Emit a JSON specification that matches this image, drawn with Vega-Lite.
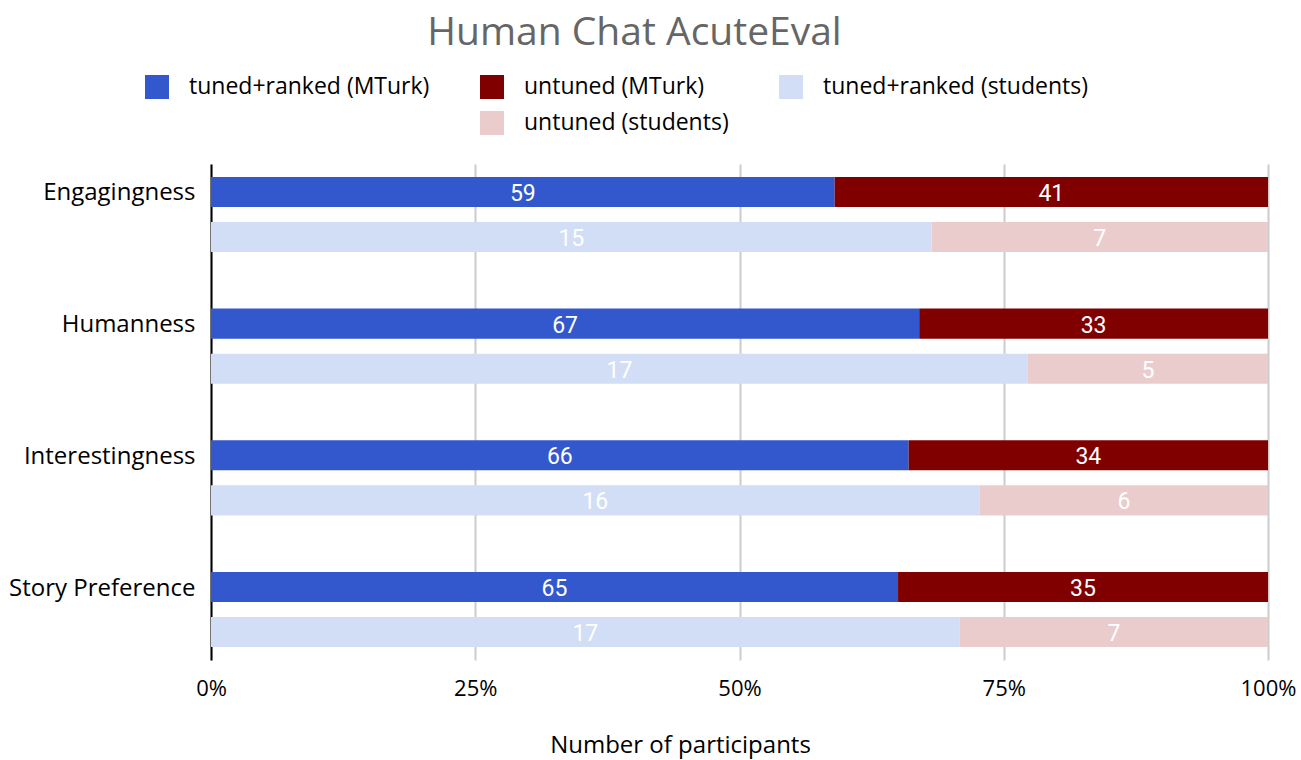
{
  "$schema": "https://vega.github.io/schema/vega-lite/v6.json",
  "width": 1057,
  "height": 496,
  "autosize": "none",
  "padding": {"left": 211, "top": 164, "right": 33, "bottom": 100},
  "background": "white",
  "title": {"text": "Human Chat AcuteEval", "fontSize": 39, "color": "#666666", "font": "Open Sans", "fontWeight": "normal", "anchor": "middle", "frame": "group", "dx": -105, "offset": 22},
  "config": {"view": {"stroke": null}},
  "data": {"values": [
    {"metric": "Engagingness", "population": "MTurk", "model": "tuned+ranked", "series": "tuned+ranked (MTurk)", "count": 59},
    {"metric": "Engagingness", "population": "MTurk", "model": "untuned", "series": "untuned (MTurk)", "count": 41},
    {"metric": "Engagingness", "population": "students", "model": "tuned+ranked", "series": "tuned+ranked (students)", "count": 15},
    {"metric": "Engagingness", "population": "students", "model": "untuned", "series": "untuned (students)", "count": 7},
    {"metric": "Humanness", "population": "MTurk", "model": "tuned+ranked", "series": "tuned+ranked (MTurk)", "count": 67},
    {"metric": "Humanness", "population": "MTurk", "model": "untuned", "series": "untuned (MTurk)", "count": 33},
    {"metric": "Humanness", "population": "students", "model": "tuned+ranked", "series": "tuned+ranked (students)", "count": 17},
    {"metric": "Humanness", "population": "students", "model": "untuned", "series": "untuned (students)", "count": 5},
    {"metric": "Interestingness", "population": "MTurk", "model": "tuned+ranked", "series": "tuned+ranked (MTurk)", "count": 66},
    {"metric": "Interestingness", "population": "MTurk", "model": "untuned", "series": "untuned (MTurk)", "count": 34},
    {"metric": "Interestingness", "population": "students", "model": "tuned+ranked", "series": "tuned+ranked (students)", "count": 16},
    {"metric": "Interestingness", "population": "students", "model": "untuned", "series": "untuned (students)", "count": 6},
    {"metric": "Story Preference", "population": "MTurk", "model": "tuned+ranked", "series": "tuned+ranked (MTurk)", "count": 65},
    {"metric": "Story Preference", "population": "MTurk", "model": "untuned", "series": "untuned (MTurk)", "count": 35},
    {"metric": "Story Preference", "population": "students", "model": "tuned+ranked", "series": "tuned+ranked (students)", "count": 17},
    {"metric": "Story Preference", "population": "students", "model": "untuned", "series": "untuned (students)", "count": 7}
  ]},
  "encoding": {
    "y": {"field": "metric", "type": "nominal", "sort": ["Engagingness", "Humanness", "Interestingness", "Story Preference"],
      "scale": {"paddingInner": 0.43, "paddingOuter": 0.098},
      "axis": {"title": null, "labelFontSize": 24, "labelFont": "Open Sans", "labelColor": "#000000", "labelLimit": 300, "labelOffset": -21, "domainColor": "#000000", "domainWidth": 2, "ticks": false, "labelPadding": 16}},
    "yOffset": {"field": "population", "type": "nominal", "sort": ["MTurk", "students"], "scale": {"paddingInner": 0.333, "paddingOuter": 0}}
  },
  "layer": [
    {"mark": {"type": "bar"},
     "encoding": {
      "x": {"field": "count", "type": "quantitative", "stack": "normalize",
        "scale": {"domain": [0, 1]},
        "axis": {"format": "%", "values": [0, 0.25, 0.5, 0.75, 1], "grid": true, "gridColor": "#cccccc", "gridWidth": 2, "domain": false, "ticks": false, "labelFlush": false, "labelFontSize": 22, "labelFont": "Open Sans", "labelColor": "#000000", "labelPadding": 18, "title": "Number of participants", "titleFontSize": 24, "titleFont": "Open Sans", "titleFontWeight": "normal", "titleColor": "#000000", "titlePadding": 34, "titleX": 469}},
      "order": {"field": "model", "sort": "ascending"},
      "color": {"field": "series", "type": "nominal",
        "scale": {"domain": ["tuned+ranked (MTurk)", "untuned (MTurk)", "tuned+ranked (students)", "", "untuned (students)"],
                  "range": ["#3357CC", "#800000", "#D2DEF5", "#ffffff", "#EBCCCC"]},
        "legend": {"title": null, "orient": "none", "legendX": -66, "legendY": -89, "direction": "horizontal", "columns": 3, "symbolType": "square", "symbolSize": 576, "symbolStrokeWidth": 0, "labelFontSize": 23, "labelFont": "Open Sans", "labelColor": "#000000", "labelLimit": 400, "labelOffset": 20, "columnPadding": 50, "rowPadding": 12}}
     }},
    {"transform": [
      {"stack": "count", "groupby": ["metric", "population"], "sort": [{"field": "model"}], "offset": "normalize", "as": ["x0", "x1"]},
      {"fold": ["x0", "x1"], "as": ["edge", "pos"]}
     ],
     "mark": {"type": "text", "color": "white", "fontSize": 23, "font": "Roboto", "baseline": "middle", "dy": 2},
     "encoding": {
       "x": {"aggregate": "mean", "field": "pos", "type": "quantitative", "stack": null},
       "text": {"field": "count", "type": "quantitative"},
       "detail": {"field": "series"}}}
  ]
}
